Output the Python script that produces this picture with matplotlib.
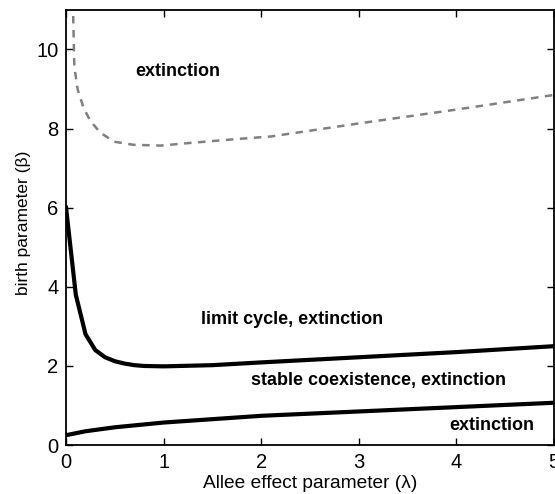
import matplotlib
matplotlib.use("Agg")
import matplotlib.pyplot as plt

plt.rcParams['font.family'] = ['Liberation Sans', 'DejaVu Sans']

# upper (dashed) boundary
lam_upper = [0.07, 0.085, 0.12, 0.18, 0.25, 0.35, 0.49, 0.69, 0.97, 1.24, 1.72, 2.1, 3.0, 4.0, 5.0]
beta_upper = [11.2, 9.56, 8.98, 8.52, 8.19, 7.9, 7.67, 7.59, 7.57, 7.63, 7.73, 7.8, 8.13, 8.48, 8.85]

# middle boundary (limit cycle / coexistence)
lam_mid = [0.0, 0.1, 0.2, 0.3, 0.4, 0.5, 0.6, 0.7, 0.8, 1.0, 1.5, 2.0, 3.0, 4.0, 5.0]
beta_mid = [6.0, 3.8, 2.8, 2.4, 2.22, 2.12, 2.06, 2.02, 2.0, 1.99, 2.02, 2.09, 2.22, 2.35, 2.5]

# lower boundary
lam_low = [0.0, 0.2, 0.5, 1.0, 2.0, 3.0, 4.0, 5.0]
beta_low = [0.25, 0.35, 0.45, 0.57, 0.74, 0.85, 0.96, 1.07]

region_labels = ["extinction", "limit cycle, extinction", "stable coexistence, extinction", "extinction"]
label_pos = [(1.14, 9.44), (2.32, 3.18), (3.2, 1.64), (4.36, 0.5)]

fig = plt.figure(figsize=(5.55, 4.94), dpi=100)
ax = fig.add_axes([0.119, 0.099, 0.879, 0.881])

ax.plot(lam_upper, beta_upper, color='#808080', lw=1.8, linestyle=(0, (3.0, 2.6)))
ax.plot(lam_mid, beta_mid, color='black', lw=3.0)
ax.plot(lam_low, beta_low, color='black', lw=3.0)

for txt, (x, y) in zip(region_labels, label_pos):
    ax.text(x, y, txt, ha='center', va='center', fontsize=13, fontweight='bold')

ax.set_xlim(0, 5)
ax.set_ylim(0, 11)
ax.set_xticks([0, 1, 2, 3, 4, 5])
ax.set_yticks([0, 2, 4, 6, 8, 10])
ax.tick_params(direction='in', top=True, right=True, length=5, labelsize=14.5, width=1, pad=5.5)
for s in ax.spines.values():
    s.set_linewidth(1.3)
ax.set_xlabel("Allee effect parameter (λ)", fontsize=13.8, labelpad=2)
ax.set_ylabel("birth parameter (β)", fontsize=12.5, labelpad=4)
ax.yaxis.set_label_coords(-0.072, 0.51)

fig.savefig("out.png", dpi=100)
